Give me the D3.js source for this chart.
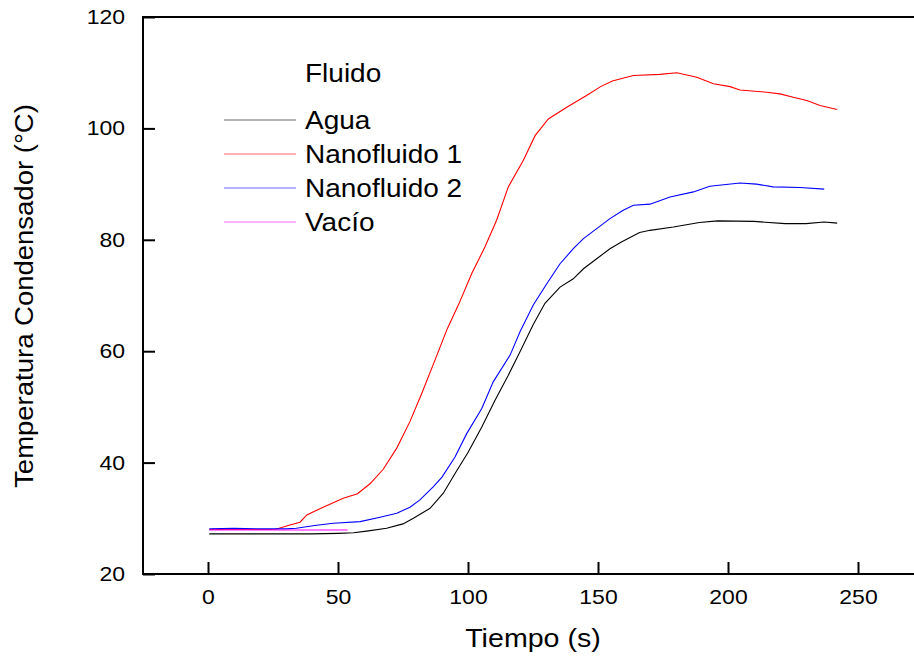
<!DOCTYPE html>
<html><head><meta charset="utf-8">
<script src="https://cdn.jsdelivr.net/npm/d3@7"></script>
<style>body{margin:0;background:#fff}svg{display:block;font-family:"Liberation Sans",Arial,sans-serif}</style>
</head><body><svg id="c" width="914" height="656"></svg>
<script>
const seriesNames = ["Agua", "Nanofluido 1", "Nanofluido 2", "Vacío"];
const seriesColors = ["#000000", "#ff0000", "#0000ff", "#ff00ff"];
const xTicks = [0, 50, 100, 150, 200, 250];
const yTicks = [20, 40, 60, 80, 100, 120];

const aguaT = [0.5,10,20,30,40,50,56,61,68.7,75,79,85.4,90.5,95.6,100,105.3,110.4,115.5,120,125,129.6,135.4,140.5,144.4,149.5,154.6,159,166,170,179,189,196,210,222,230,237,242];
const aguaV = [27.2,27.2,27.2,27.2,27.2,27.3,27.4,27.7,28.2,29.0,30.0,31.8,34.5,38.5,41.8,46.4,51.2,55.7,59.9,64.7,68.6,71.5,73.0,74.8,76.6,78.4,79.6,81.3,81.7,82.3,83.1,83.4,83.3,82.9,82.9,83.2,83.0];

const nano1T = [0.5,10,20,25.8,31.5,35.4,38,44.3,52,57.5,62.3,67.4,72.6,77.7,82.2,87.3,92,96.5,101.4,106.5,111,115.5,121.3,125.8,130.9,138,145.6,151,155.5,163.6,173.8,180.3,188,194.4,200.8,204.6,214.9,220,225.1,230.3,235.4,242];
const nano1V = [28.0,28.0,28.0,28.0,28.8,29.3,30.6,32.0,33.6,34.4,36.2,38.8,42.6,47.4,52.4,58.4,64.0,68.5,73.9,78.7,83.5,89.5,94.3,98.7,101.7,103.8,105.9,107.5,108.5,109.5,109.7,110.0,109.2,108.0,107.5,106.9,106.5,106.2,105.6,105.0,104.1,103.4];

const nano2T = [0.5,10,20,30,34,41,48.2,58.5,66.2,72.6,77.7,81.5,86.7,90,95,99.5,105.3,109.7,116.2,120,125.1,130.3,135.4,140.5,144.4,149.5,154.6,159.7,163.6,170,177.7,186.7,193,204.6,211,217.4,227.7,237];
const nano2V = [28.1,28.2,28.1,28.1,28.2,28.7,29.1,29.4,30.2,30.9,32.0,33.3,35.7,37.4,41.0,45.2,49.7,54.5,59.3,63.5,68.3,72.1,75.7,78.4,80.2,82.0,83.8,85.3,86.2,86.4,87.7,88.6,89.6,90.2,90.0,89.5,89.4,89.1];

const vacioT = [0.5,10,20,30,40,53.7];
const vacioV = [27.9,27.9,27.9,27.9,27.9,27.9];

const seriesT = [aguaT, nano1T, nano2T, vacioT];
const seriesV = [aguaV, nano1V, nano2V, vacioV];

const svg = d3.select("#c");
const x = d3.scaleLinear().domain([-25, 275]).range([143, 923]);
const y = d3.scaleLinear().domain([20, 120]).range([574, 17]);

// series lines
const line = d3.line().x(d => x(d[0])).y(d => y(d[1]));
seriesNames.forEach((name, i) => {
  const pts = seriesT[i].map((t, j) => [t, seriesV[i][j]]);
  svg.append("path").datum(pts).attr("d", line)
    .attr("fill", "none").attr("stroke", seriesColors[i]).attr("stroke-width", 1.1);
});

// axes
const gx = svg.append("g").attr("transform", "translate(0,574)")
  .call(d3.axisBottom(x).tickValues(xTicks).tickSizeInner(-12).tickSizeOuter(0).tickPadding(16));
gx.select(".domain").remove();
gx.selectAll("line").attr("stroke", "#000").attr("stroke-width", 2);
gx.selectAll("text").attr("font-size", 20).attr("fill", "#000")
  .attr("font-family", "Liberation Sans, Arial, sans-serif").attr("transform", "scale(1.15,1)");

const gy = svg.append("g").attr("transform", "translate(143,0)")
  .call(d3.axisLeft(y).tickValues(yTicks).tickSizeInner(-12).tickSizeOuter(0).tickPadding(15.6));
gy.select(".domain").remove();
gy.selectAll("line").attr("stroke", "#000").attr("stroke-width", 2);
gy.selectAll("text").attr("font-size", 20).attr("fill", "#000")
  .attr("font-family", "Liberation Sans, Arial, sans-serif").attr("transform", "scale(1.15,1)");

// frame (left, bottom, top)
svg.append("path").attr("d", `M914,${y(120)}H${x(-25)}V${y(20)}H914`)
  .attr("fill", "none").attr("stroke", "#000").attr("stroke-width", 2);

// axis titles
svg.append("text").attr("transform", "translate(533,647) scale(1.1,1)")
  .attr("text-anchor", "middle").attr("font-size", 26).text("Tiempo (s)");
svg.append("text").attr("transform", "translate(33,296) rotate(-90) scale(1.1,1)")
  .attr("text-anchor", "middle").attr("font-size", 25).text("Temperatura Condensador (°C)");

// legend
svg.append("text").attr("transform", "translate(305,82) scale(1.12,1)")
  .attr("font-size", 25).text("Fluido");
seriesNames.forEach((name, i) => {
  const ly = 120 + i * 34;
  svg.append("line").attr("x1", 224).attr("x2", 296).attr("y1", ly).attr("y2", ly)
    .attr("stroke", seriesColors[i]).attr("stroke-width", 1.2).attr("opacity", 0.6);
  svg.append("text").attr("transform", `translate(305,${ly + 9}) scale(1.12,1)`)
    .attr("font-size", 25).text(name);
});
</script>
</body></html>
